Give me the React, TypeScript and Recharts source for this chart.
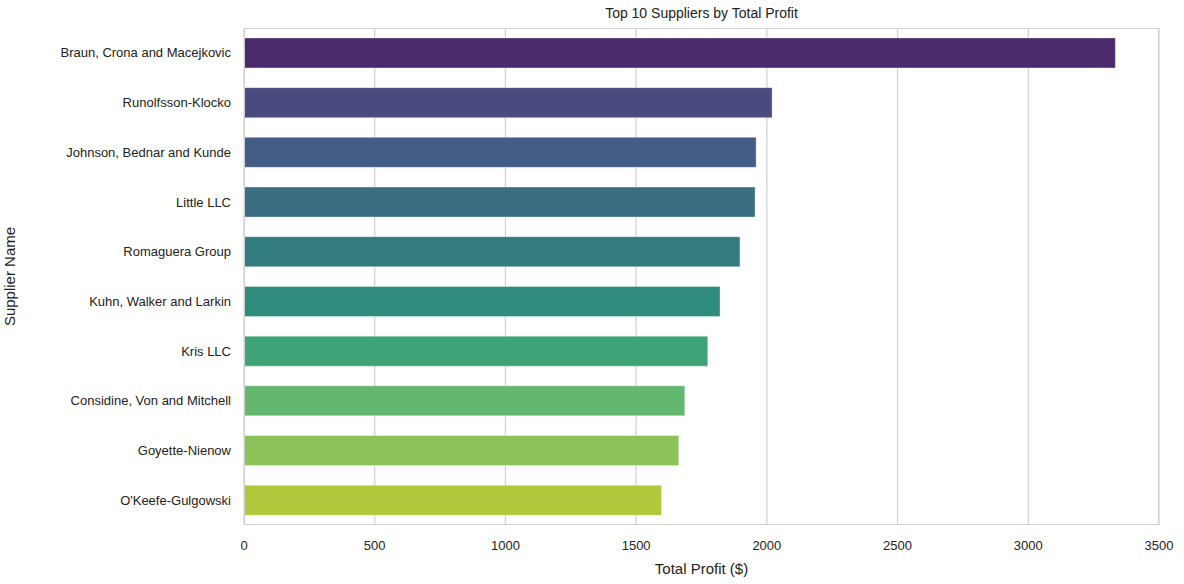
import { BarChart, Bar, XAxis, YAxis, CartesianGrid, Cell } from 'recharts';

const suppliers = [
  'Braun, Crona and Macejkovic',
  'Runolfsson-Klocko',
  'Johnson, Bednar and Kunde',
  'Little LLC',
  'Romaguera Group',
  'Kuhn, Walker and Larkin',
  'Kris LLC',
  'Considine, Von and Mitchell',
  'Goyette-Nienow',
  "O'Keefe-Gulgowski",
];
const profits = [3333, 2020, 1959, 1955, 1897, 1821, 1774, 1686, 1663, 1597];
const colors = [
  '#4a2a6a', '#4a4a7e', '#435d87', '#3b6e82', '#327b7e',
  '#2f8b7c', '#3ea478', '#63b76f', '#8bc35a', '#b0c93a',
];
const xTicks = [0, 500, 1000, 1500, 2000, 2500, 3000, 3500];

const data = suppliers.map((name, i) => ({ name, profit: profits[i] }));
const font = '"Liberation Sans", Arial, sans-serif';

export default function App() {
  return (
    <div style={{ position: 'fixed', left: 0, top: 0, width: 1184, height: 584, background: '#fff', fontFamily: font }}>
      <div style={{ position: 'absolute', top: 5, left: 244, width: 915, textAlign: 'center', fontSize: 14, color: '#222' }}>
        Top 10 Suppliers by Total Profit
      </div>
      <div style={{ position: 'absolute', left: 244, top: 28, width: 913, height: 495, border: '1.5px solid #d0d0d0', pointerEvents: 'none', zIndex: 2 }} />
      <BarChart
        width={1184}
        height={584}
        data={data}
        layout="vertical"
        barCategoryGap="20%"
        margin={{ top: 28, right: 25, left: 0, bottom: 0 }}
      >
        <CartesianGrid horizontal={false} stroke="#d0d0d0" strokeWidth={1.2} />
        <XAxis
          type="number"
          domain={[0, 3500]}
          ticks={xTicks}
          axisLine={false}
          tickLine={false}
          tickSize={0}
          tickMargin={16}
          height={59}
          tick={{ fontSize: 13, fill: '#222', fontFamily: font }}
          label={{ value: 'Total Profit ($)', position: 'insideBottom', offset: 10, fontSize: 15, fill: '#222', fontFamily: font }}
        />
        <YAxis
          type="category"
          dataKey="name"
          width={244}
          axisLine={false}
          tickLine={false}
          tickSize={0}
          tickMargin={13}
          tick={{ fontSize: 13, fill: '#222', fontFamily: font }}
          label={{ value: 'Supplier Name', angle: -90, position: 'insideLeft', offset: 10, fontSize: 15, fill: '#222', fontFamily: font, style: { textAnchor: 'middle' } }}
        />
        <Bar dataKey="profit" isAnimationActive={false}>
          {data.map((d, i) => (
            <Cell key={d.name} fill={colors[i]} stroke="rgba(255,255,255,0.35)" />
          ))}
        </Bar>
      </BarChart>
    </div>
  );
}
